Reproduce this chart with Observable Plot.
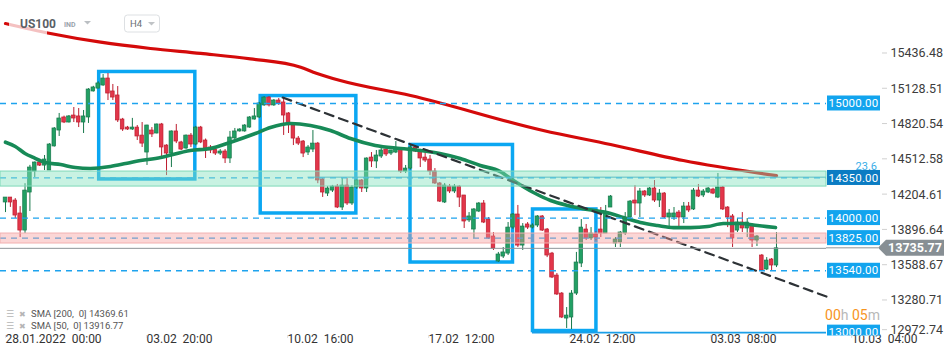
<!DOCTYPE html>
<html><head><meta charset="utf-8">
<script src="https://cdn.jsdelivr.net/npm/d3@7"></script>
<script src="https://cdn.jsdelivr.net/npm/@observablehq/plot@0.6"></script>
<style>
body{margin:0;background:#fff;font-family:Roboto,sans-serif;}
#chart{position:relative;width:950px;height:360px;overflow:hidden;}
</style></head>
<body><div id="chart"></div>
<script>
// ---- Candle data (US100, H4) ----
const opens  = [14136,14179,14153,14040,13891,14223,14406,14485,14458,14415,14625,14764,14878,14834,14895,14887,14834,14878,15105,15130,15157,15218,15105,15070,14860,14790,14773,14790,14720,14572,14764,14738,14817,14633,14563,14756,14660,14607,14720,14642,14790,14677,14616,14598,14563,14581,14520,14695,14756,14756,14790,14860,14878,14983,15052,14983,15026,15009,14913,14808,14694,14668,14572,14598,14650,14337,14214,14240,14275,14092,14284,14127,14267,14328,14258,14528,14494,14537,14598,14563,14572,14607,14406,14432,14616,14590,14528,14511,14406,14302,14136,14275,14232,14275,14197,13979,13900,14057,14127,13987,13839,13621,13664,13690,13917,14031,13760,13944,13917,13935,14014,13900,13690,13498,13341,13123,13132,13341,13603,13900,13822,13857,13900,13865,14092,13778,13787,13865,14005,14153,14127,14232,14197,14258,14153,14214,14005,14005,14048,14005,14101,14075,14240,14197,14223,14249,14179,14267,14092,14014,13891,13961,13909,13935,13804,13673,13551,13638,13586];
const highs  = [14179,14179,14170,14100,14300,14460,14490,14490,14546,14650,14790,14913,14890,14895,14965,14956,14939,15130,15150,15190,15253,15262,15166,15148,14870,14800,14870,14808,14834,14810,14790,14820,14826,14640,14760,14817,14670,14725,14738,14800,14800,14690,14633,14607,14598,14598,14756,14782,14780,14815,14885,14956,15010,15060,15060,15035,15044,15052,14920,14815,14712,14677,14633,14764,14660,14345,14275,14285,14293,14345,14345,14284,14335,14335,14525,14572,14590,14616,14616,14590,14668,14616,14459,14640,14633,14600,14572,14546,14432,14310,14302,14293,14293,14284,14197,14048,14083,14136,14153,14005,13874,13700,13743,13961,14040,14110,13952,13961,13950,14022,14022,13909,13700,13516,13350,13219,13367,13700,13987,13944,13917,13880,14092,14110,14197,13830,13883,14048,14153,14284,14258,14240,14267,14328,14249,14223,14075,14092,14066,14136,14136,14258,14293,14249,14267,14260,14389,14275,14100,14031,13996,14048,13996,13952,13848,13682,13655,13647,13874];
const lows   = [14048,14093,13996,13830,13865,14057,14354,14450,14415,14415,14620,14712,14825,14830,14834,14790,14738,14826,15100,15130,15150,15026,15026,14834,14756,14765,14765,14677,14616,14459,14703,14735,14528,14371,14441,14650,14590,14600,14616,14630,14650,14520,14563,14546,14546,14476,14476,14660,14750,14750,14785,14855,14870,14975,14970,14975,14983,14721,14738,14633,14633,14528,14546,14572,14300,14180,14188,14223,14083,14066,14110,14110,14250,14223,14223,14441,14432,14520,14537,14546,14563,14389,14389,14420,14572,14441,14485,14371,14293,14136,14127,14214,14214,14092,13909,13961,13822,14048,13952,13813,13717,13612,13647,13673,13900,13743,13717,13900,13905,13917,13883,13655,13472,13324,13123,13036,13027,13324,13568,13804,13804,13800,13830,13865,14092,13743,13743,13848,13996,14022,14005,14180,14188,14136,14092,13996,13917,13979,13917,13952,14048,14066,14179,14179,14214,14205,14170,14066,13917,13743,13874,13874,13830,13743,13752,13542,13542,13542,13568];
const closes = [14179,14136,14022,13891,14240,14441,14485,14458,14511,14642,14782,14869,14834,14887,14869,14834,14887,15122,15140,15175,15218,15087,15052,14852,14773,14773,14790,14712,14650,14808,14730,14817,14616,14563,14756,14668,14598,14720,14642,14790,14660,14590,14590,14563,14581,14520,14703,14756,14773,14808,14878,14887,15000,15052,14983,15026,15000,14895,14825,14694,14650,14563,14616,14650,14328,14223,14258,14275,14092,14284,14127,14267,14328,14258,14520,14494,14546,14590,14555,14590,14607,14406,14432,14616,14581,14520,14502,14406,14302,14144,14284,14232,14275,14179,13970,14014,14075,14127,13961,13822,13734,13682,13700,13917,14031,13760,13926,13917,13935,14014,13891,13673,13481,13333,13132,13149,13341,13612,13917,13822,13865,13830,13865,14040,14188,13813,13874,13996,14144,14127,14232,14197,14258,14153,14214,14005,14040,14040,14005,14101,14066,14240,14188,14232,14258,14214,14267,14075,14005,13822,13961,13909,13961,13804,13839,13542,13629,13586,13736];

// ---- Moving averages (bar index, value) ----
const sma200Idx = [0,9.2,19.5,29.7,40,50.2,60.5,63.7,68.6,83,110.2,124,138.9,158];
const sma200Val = [15698,15611,15535,15480,15437,15390,15317,15265,15201,15070,14764,14642,14502,14370];
const sma50Idx  = [0,2,4,5.7,8.2,11.3,14.3,17.4,21.5,24.6,26.6,31.8,37.9,42,46,51.2,54.3,58.4,62.5,66.6,70.7,75.8,81,85,89,93.2,97.3,101.4,104.1,108.2,111.7,115.2,119.3,124,126.6,130.1,133.6,136.9,140.4,143.9,147.1,150.6,154.1,157.8];
const sma50Val  = [14662,14625,14564,14529,14485,14467,14441,14433,14450,14476,14494,14529,14590,14607,14660,14738,14790,14825,14808,14764,14694,14633,14607,14590,14564,14520,14459,14406,14328,14223,14153,14110,14075,14040,14005,13961,13935,13917,13917,13926,13952,13952,13935,13917];
const sma200Last = 14369.61, sma50Last = 13916.77;

// ---- Drawings ----
const trendIdx = [56.8, 168.25];
const trendVal = [15052, 13315];
const boxStart = [19.2, 52.3, 83, 108.1];
const boxEnd   = [38.9, 71.9, 104, 121.1];
const boxTop   = [15275, 15065, 14638, 14075];
const boxBottom= [14337, 14040, 13612, 13014];
const greenZone = [14275, 14406];
const pinkZone  = [13778, 13865];
const dashedLevels = [15000, 14350, 14000, 13825, 13540];
const supportLevel = 13000, supportStart = 108;
const fibLevel = 14357, fibStart = 62, fibText = "23.6";
const levelLabels = [15000, 14350, 14000, 13825, 13540, 13000];
const currentPrice = 13735.77;
const yTicks = [15436.48, 15128.51, 14820.54, 14512.58, 14204.61, 13896.64, 13588.67, 13280.71, 12972.74];
const xTickPos = [0, 28.9, 57.8, 86.7, 115.6, 144.5, 173.4];
const xTickText = ["28.01.2022  00:00", "03.02  20:00", "10.02  16:00", "17.02  12:00", "24.02  12:00", "03.03  08:00", "10.03  04:00"];

const xDomain = [-1.025, 168.25];
const yDomain = [12975, 15899];

const candles = opens.map((o, i) => ({i, o, h: highs[i], l: lows[i], c: closes[i], up: closes[i] >= o}));
const sma200 = sma200Idx.map((i, k) => ({i, v: sma200Val[k]}));
const sma50 = sma50Idx.map((i, k) => ({i, v: sma50Val[k]}));
const trend = trendIdx.map((i, k) => ({i, v: trendVal[k]}));
const boxes = boxStart.map((s, k) => ({x1: s, x2: boxEnd[k], top: boxTop[k], bottom: boxBottom[k]}));
const xTicks = xTickPos.map((p, k) => ({p, t: xTickText[k]}));

const GU = "#22a064", GS = "#17784b", RD = "#e2364a", RS = "#bd1d2f";

const chart = Plot.plot({
  width: 950, height: 360,
  marginLeft: 0, marginRight: 124, marginTop: 0, marginBottom: 25,
  x: {type: "linear", domain: xDomain, axis: null},
  y: {domain: yDomain, axis: null},
  style: {fontFamily: "Roboto, sans-serif", background: "#fff", overflow: "visible"},
  marks: [
    Plot.rect(boxes, {x1: "x1", x2: "x2", y1: "top", y2: "bottom", fill: "none", stroke: "#0ba7f2", strokeWidth: 3.5}),
    Plot.ruleX(candles, {x: "i", y1: "l", y2: "h", stroke: d => d.up ? GS : RS, strokeWidth: 1}),
    Plot.rect(candles, {x1: d => d.i - 0.37, x2: d => d.i + 0.37, y1: "o", y2: "c",
      fill: d => d.up ? GU : RD, stroke: d => d.up ? GS : RS, strokeWidth: 0.7}),
    Plot.line(sma200, {x: "i", y: "v", stroke: "#d40a0a", strokeWidth: 3.2, curve: "monotone-x"}),
    Plot.line(sma50, {x: "i", y: "v", stroke: "#178a57", strokeWidth: 3.6, curve: "monotone-x"}),
    Plot.line(trend, {x: "i", y: "v", stroke: "#2d3236", strokeWidth: 2.2, strokeDasharray: "9,6"}),
    Plot.ruleY([fibLevel], {x1: fibStart, x2: xDomain[1], stroke: "#3fa2c4", strokeWidth: 1}),
    Plot.ruleY(dashedLevels, {stroke: "#1ea3ee", strokeWidth: 1.3, strokeDasharray: "6,5"}),
    Plot.ruleY([supportLevel], {x1: supportStart, x2: xDomain[1], stroke: "#1a9fe8", strokeWidth: 1.6}),
    Plot.rect([greenZone], {x1: () => xDomain[0], x2: () => xDomain[1], y1: d => d[0], y2: d => d[1],
      fill: "#85e2bf", fillOpacity: 0.45, stroke: "#7fd8b8", strokeWidth: 1}),
    Plot.rect([pinkZone], {x1: () => xDomain[0], x2: () => xDomain[1], y1: d => d[0], y2: d => d[1],
      fill: "#f59898", fillOpacity: 0.4, stroke: "#f2b0b0", strokeWidth: 1}),
    Plot.ruleY([currentPrice], {stroke: "#8e9499", strokeWidth: 1}),
    Plot.text(yTicks.slice(0, -1), {y: d => d, text: d => d.toFixed(2), frameAnchor: "right", dx: 64,
      textAnchor: "start", fontSize: 12.5, fill: "#3c3c3c"}),
    Plot.text(yTicks.slice(-1), {y: d => d, text: d => d.toFixed(2), frameAnchor: "right", dx: 64, dy: -5.6,
      textAnchor: "start", fontSize: 12.5, fill: "#3c3c3c"}),
    Plot.text(xTicks, {x: "p", text: "t", frameAnchor: "bottom", dy: 7, textAnchor: "start",
      fontSize: 12, fill: "#333"})
  ]
});
document.getElementById("chart").append(chart);

// ---- Decorations positioned through the chart's own scales ----
const ys = chart.scale("y"), xs = chart.scale("x");
const Y = v => ys.apply(v), X = v => xs.apply(v);
const svg = d3.select(chart);
const deco = svg.append("g").attr("text-anchor", "start");
const R = X(xDomain[1]);            // right edge of plotting frame
const bottom = Y(yDomain[0]);

// axis tick dashes
yTicks.forEach((v, k) => {
  const yy = Y(v) + (k === yTicks.length - 1 ? -5.6 : 0);
  deco.append("line").attr("x1", R + 56).attr("x2", R + 61).attr("y1", yy).attr("y2", yy)
    .attr("stroke", "#d0d0d0").attr("stroke-width", 1);
});
xTickPos.forEach(p => {
  deco.append("line").attr("x1", X(p) + 0.5).attr("x2", X(p) + 0.5).attr("y1", bottom).attr("y2", bottom + 3)
    .attr("stroke", "#e0e0e0");
});

// grey current-price line extension into the label column
deco.append("line").attr("x1", R).attr("x2", R + 52).attr("y1", Y(currentPrice)).attr("y2", Y(currentPrice))
  .attr("stroke", "#8e9499").attr("stroke-width", 1);

// level labels (clipped at the bottom of the frame)
deco.append("clipPath").attr("id", "lvlclip").append("rect")
  .attr("x", R - 5).attr("y", 0).attr("width", 80).attr("height", bottom + 0.5);
const lg = deco.append("g").attr("clip-path", "url(#lvlclip)");
levelLabels.forEach(v => {
  const yy = Y(v);
  lg.append("rect").attr("x", R + 1).attr("y", yy - 7.5).attr("width", 53).attr("height", 15)
    .attr("fill", v === 14350 ? "#0b7cc3" : "#12a4ee");
  lg.append("text").attr("x", R + 27.5).attr("y", yy).attr("dy", "0.36em").attr("text-anchor", "middle")
    .attr("fill", "#fff").attr("font-size", 11.5).attr("letter-spacing", "0.2px").text(v.toFixed(2));
});

// fib text
deco.append("text").attr("x", R + 51).attr("y", Y(fibLevel) - 7).attr("text-anchor", "end")
  .attr("fill", "#3aaee8").attr("font-size", 11).text(fibText);

// current price tag
{
  const yy = Y(currentPrice), x0 = R + 52;
  deco.append("path").attr("d", `M${x0},${yy} L${x0 + 8},${yy - 8} L${x0 + 66},${yy - 8} L${x0 + 66},${yy + 8} L${x0 + 8},${yy + 8} Z`)
    .attr("fill", "#878f94");
  deco.append("text").attr("x", x0 + 37).attr("y", yy).attr("dy", "0.36em").attr("text-anchor", "middle")
    .attr("fill", "#fff").attr("font-size", 12.5).attr("font-weight", "bold").text(currentPrice.toFixed(2));
}

// countdown
{
  const t = deco.append("text").attr("x", R + 54).attr("y", Y(supportLevel) - 12).attr("text-anchor", "end").attr("font-size", 14);
  t.append("tspan").attr("fill", "#f7941d").text("00");
  t.append("tspan").attr("fill", "#b8b8b8").text("h ");
  t.append("tspan").attr("fill", "#f7941d").text("05");
  t.append("tspan").attr("fill", "#b8b8b8").text("m");
}

// legend
[["SMA [200,  0] " + sma200Last.toFixed(2), 317], ["SMA [50,  0] " + sma50Last.toFixed(2), 329]].forEach(([s, yy]) => {
  deco.append("text").attr("x", 6).attr("y", yy).attr("font-size", 9).attr("fill", "#b5b5b5")
    .attr("font-family", "DejaVu Sans").text("☰");
  deco.append("text").attr("x", 19).attr("y", yy).attr("font-size", 8).attr("fill", "#b5b5b5")
    .attr("font-family", "DejaVu Sans").text("✖");
  deco.append("text").attr("x", 31).attr("y", yy).attr("font-size", 9.5).attr("fill", "#555")
    .attr("xml:space", "preserve").style("white-space", "pre").text(s);
});

// header
deco.append("rect").attr("x", 9).attr("y", 15).attr("width", 38).attr("height", 22).attr("fill", "#fff").attr("opacity", 0.75);
deco.append("text").attr("x", 20).attr("y", 27.5).attr("font-size", 12).attr("font-weight", "bold").attr("fill", "#5a5f66").text("US100");
deco.append("text").attr("x", 64).attr("y", 26.7).attr("font-size", 7).attr("font-weight", "bold").attr("fill", "#9aa3ab").text("IND");
deco.append("path").attr("d", "M84,21 L91,21 L87.5,24.5 Z").attr("fill", "#bbbfc3");
deco.append("rect").attr("x", 124.5).attr("y", 15).attr("width", 35).attr("height", 17).attr("rx", 3)
  .attr("fill", "#fff").attr("stroke", "#dde0e3");
deco.append("text").attr("x", 130).attr("y", 27).attr("font-size", 9.5).attr("fill", "#6b7075").text("H4");
deco.append("path").attr("d", "M148,22 L155,22 L151.5,25.5 Z").attr("fill", "#c0c3c6");
</script>
</body></html>
